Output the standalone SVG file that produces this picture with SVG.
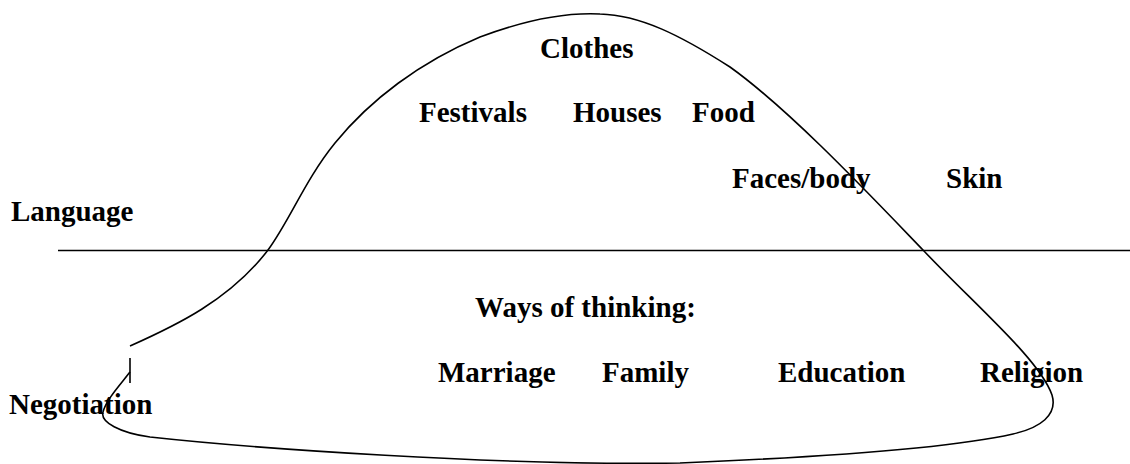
<svg xmlns="http://www.w3.org/2000/svg" width="1130" height="464" viewBox="0 0 1130 464">
<style>
.t{font-family:"Liberation Serif","Times New Roman",serif;font-weight:bold;font-size:29px;fill:#000}
.ln{fill:none;stroke:#000;stroke-width:1.6}
</style>
<rect width="1130" height="464" fill="#fff"/>
<g id="connectors">
<line class="ln" x1="58" y1="250.5" x2="1130" y2="250.5" stroke-width="2"/>
<path id="iceberg" class="ln" d="M130,346 C175,326 230,300 268,250 C290,220 305,180 335,143 C370,100 420,62 480,37 C520,22 560,12 600,14 C640,15 680,35 730,67 C790,110 870,195 923,250 C975,305 1040,360 1052,395 C1058,415 1040,428 1013,434 C960,446 850,456 680,463 C500,466 250,448 150,437 C120,433 100,422 103,412 C106,400 120,385 130,372"/>
<line class="ln" x1="130" y1="358" x2="130" y2="383"/>
</g>
<g id="n-clothes"><text class="t" x="540" y="58">Clothes</text></g>
<g id="n-festivals"><text class="t" x="419" y="122">Festivals</text></g>
<g id="n-houses"><text class="t" x="573" y="122">Houses</text></g>
<g id="n-food"><text class="t" x="692" y="122">Food</text></g>
<g id="n-faces"><text class="t" x="732" y="188">Faces/body</text></g>
<g id="n-skin"><text class="t" x="946" y="188">Skin</text></g>
<g id="n-language"><text class="t" x="11" y="221">Language</text></g>
<g id="n-ways"><text class="t" x="475" y="317">Ways of thinking:</text></g>
<g id="n-marriage"><text class="t" x="438" y="382">Marriage</text></g>
<g id="n-family"><text class="t" x="602" y="382">Family</text></g>
<g id="n-education"><text class="t" x="778" y="382">Education</text></g>
<g id="n-religion"><text class="t" x="980" y="382">Religion</text></g>
<g id="n-negotiation"><text class="t" x="9" y="414">Negotiation</text></g>
</svg>
